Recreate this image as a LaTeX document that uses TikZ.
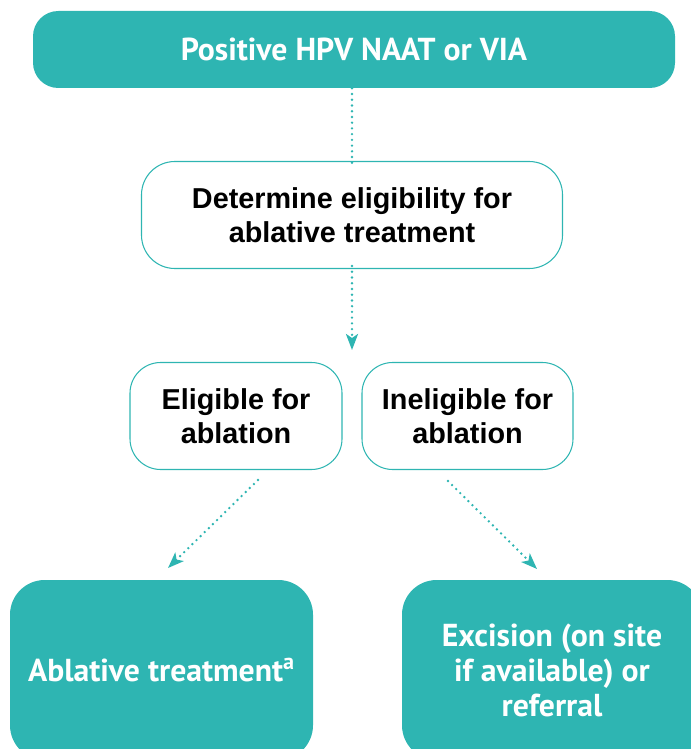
\documentclass[tikz,border=0pt]{standalone}
\usepackage{fontspec}
\setmainfont{Liberation Sans}
\newfontfamily\condfont{PT Sans}
\usepackage{tikz}
\usetikzlibrary{shapes, arrows.meta}
\definecolor{hpvteal}{HTML}{2EB5B2}

\begin{document}
\begin{tikzpicture}[x=0.75pt, y=-0.75pt, filled/.style={rectangle, rounded corners=26pt, fill=hpvteal, text=white, align=center, font=\condfont\bfseries\fontsize{23.8}{26.25}\selectfont}, outlined/.style={rectangle, rounded corners=23pt, draw=hpvteal, line width=0.8pt, align=center, font=\bfseries\fontsize{21.6}{25.5}\selectfont}, dotline/.style={hpvteal, line width=2pt, line cap=round, dash pattern=on 0pt off 4.3pt}, tip/.style={-{Stealth[length=12pt, width=9pt, inset=3pt]}}]
  \clip (0,0) rectangle (691,749);
  \node[filled, minimum width=481.5pt, minimum height=57.75pt, rounded corners=19pt] (pos) at (354,49.5) {Positive HPV NAAT or VIA};
  \node[outlined, minimum width=315.75pt, minimum height=80.25pt, rounded corners=25pt] (det) at (352,215) {Determine eligibility for\\ablative treatment};
  \node[outlined, minimum width=159pt, minimum height=80.25pt] (elig) at (236,416) {Eligible for\\ablation};
  \node[outlined, minimum width=158.25pt, minimum height=80.25pt] (inelig) at (467.5,416) {Ineligible for\\ablation};
  \node[filled, minimum width=227.25pt, minimum height=135pt] (abl) at (161.5,670) {Ablative treatment\textsuperscript{a}};
  \node[filled, minimum width=225pt, minimum height=135pt] (exc) at (552,670) {Excision (on site\\if available) or\\referral};
  % free ends of the arrows
  \coordinate (gap) at (352,350);
  \coordinate (eligout) at (258,480);
  \coordinate (ablin) at (168,568);
  \coordinate (ineligout) at (448,481);
  \coordinate (excin) at (537,569);
  \draw[dotline] (det.north |- pos.south) -- ([yshift=-2.25pt]det.north);
  \draw[dotline, tip] ([yshift=2.25pt]det.south) -- (gap);
  \draw[dotline, tip] (eligout) -- (ablin);
  \draw[dotline, tip] (ineligout) -- (excin);
\end{tikzpicture}
\end{document}
